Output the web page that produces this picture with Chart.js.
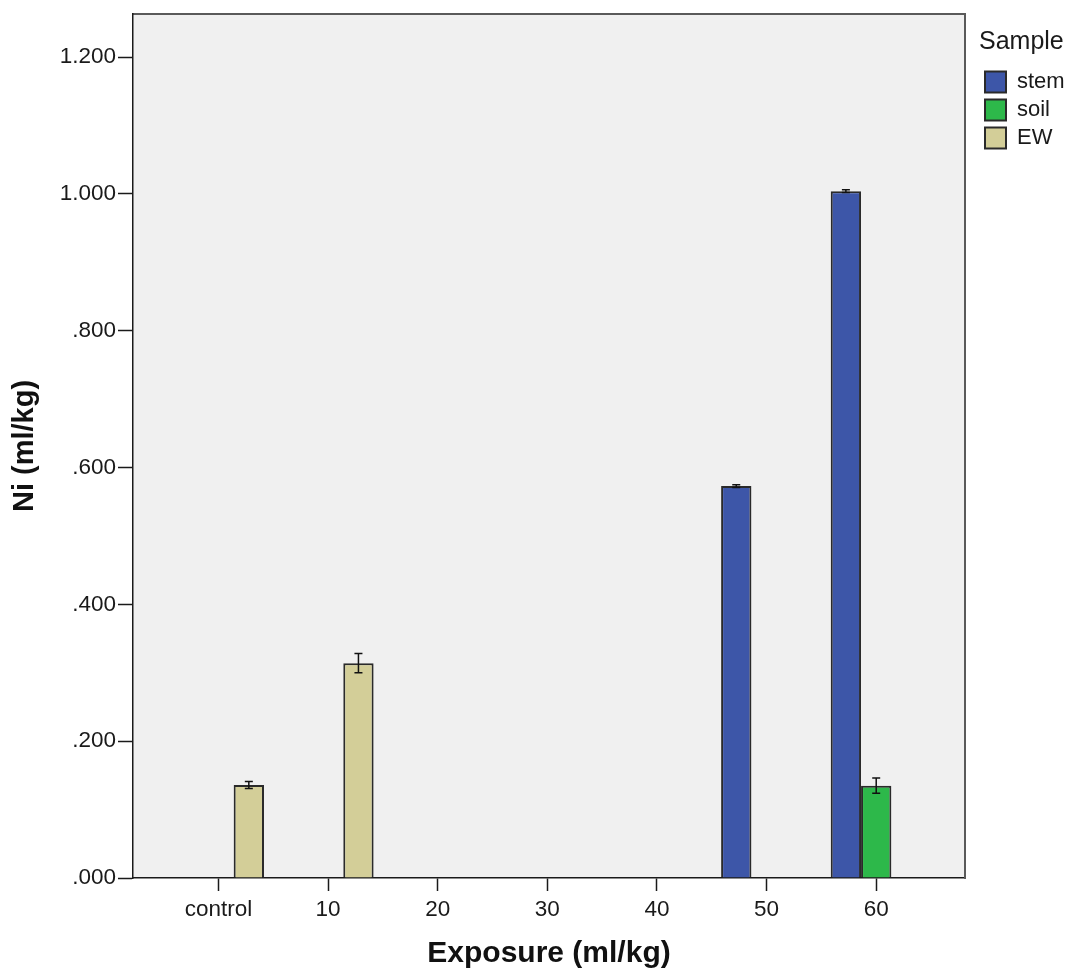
<!DOCTYPE html>
<html>
<head>
<meta charset="utf-8">
<script src="https://cdn.jsdelivr.net/npm/chart.js@4/dist/chart.umd.min.js"></script>
<style>
  html, body { margin: 0; padding: 0; background: #ffffff; }
  #wrap { width: 1071px; height: 972px; }
</style>
</head>
<body>
<div id="wrap"><canvas id="c" width="1071" height="972"></canvas></div>
<script>
// ---- data ----
const categories = ['control', '10', '20', '30', '40', '50', '60'];
const seriesNames = ['stem', 'soil', 'EW'];
const stemValues = [null, null, null, null, null, 0.573, 1.004];
const soilValues = [null, null, null, null, null, null, 0.135];
const ewValues   = [0.136, 0.314, null, null, null, null, null];
const stemErrors = [null, null, null, null, null, 0.002, 0.002];
const soilErrors = [null, null, null, null, null, null, 0.011];
const ewErrors   = [0.005, 0.014, null, null, null, null, null];
const yTickValues = [0, 0.2, 0.4, 0.6, 0.8, 1.0, 1.2];
const yTickLabels = ['.000', '.200', '.400', '.600', '.800', '1.000', '1.200'];

const colors = ['#3D56A8', '#2DB84A', '#D3CE98'];
const FONT = '"Liberation Sans", Arial, sans-serif';

function toPoints(vals) { return vals.map((v, i) => ({ x: i, y: v })); }

const valueSets = [stemValues, soilValues, ewValues];
const errorSets = [stemErrors, soilErrors, ewErrors];

const datasets = seriesNames.map((name, k) => ({
  label: name,
  data: toPoints(valueSets[k]),
  errors: errorSets[k],
  backgroundColor: colors[k],
  borderColor: '#2a2a2a',
  borderWidth: 2,
  categoryPercentage: 0.83,
  barPercentage: 1.0
}));

const plotBg = {
  id: 'plotBg',
  beforeDraw(chart) {
    const { ctx, chartArea: a } = chart;
    ctx.save();
    ctx.fillStyle = '#F0F0F0';
    ctx.fillRect(a.left, a.top, a.right - a.left, a.bottom - a.top);
    ctx.restore();
  }
};

const errorBars = {
  id: 'errorBars',
  afterDatasetsDraw(chart) {
    const { ctx } = chart;
    const yScale = chart.scales.y;
    ctx.save();
    ctx.strokeStyle = '#111111';
    ctx.lineWidth = 1.5;
    chart.data.datasets.forEach((ds, di) => {
      const meta = chart.getDatasetMeta(di);
      meta.data.forEach((bar, j) => {
        const v = ds.data[j].y;
        const e = ds.errors[j];
        if (v == null || e == null) return;
        const x = bar.x;
        const yTop = yScale.getPixelForValue(v + e);
        const yBot = yScale.getPixelForValue(v - e);
        const cap = 4;
        ctx.beginPath();
        ctx.moveTo(x, yTop); ctx.lineTo(x, yBot);
        ctx.moveTo(x - cap, yTop); ctx.lineTo(x + cap, yTop);
        ctx.moveTo(x - cap, yBot); ctx.lineTo(x + cap, yBot);
        ctx.stroke();
      });
    });
    ctx.restore();
  }
};

Chart.defaults.font.family = FONT;
Chart.defaults.color = '#1a1a1a';

new Chart(document.getElementById('c'), {
  type: 'bar',
  data: { datasets },
  plugins: [plotBg, errorBars],
  options: {
    responsive: false,
    animation: false,
    layout: { padding: 0 },
    plugins: {
      tooltip: { enabled: false },
      legend: {
        position: 'right',
        align: 'start',
        maxWidth: 92,
        title: {
          display: true,
          text: 'Sample',
          position: 'start',
          color: '#1a1a1a',
          font: { size: 25, family: FONT },
          padding: { top: 30, bottom: 5 }
        },
        labels: {
          boxWidth: 21,
          boxHeight: 21,
          padding: 6,
          color: '#1a1a1a',
          font: { size: 22, family: FONT }
        }
      }
    },
    scales: {
      x: {
        type: 'linear',
        position: 'bottom',
        offset: false,
        min: -0.78,
        max: 6.81,
        afterBuildTicks(axis) { axis.ticks = categories.map((c, i) => ({ value: i })); },
        afterFit(s) { s.height = 94; s.paddingLeft = 0; s.paddingRight = 0; },
        ticks: {
          callback: (v) => categories[v],
          autoSkip: false,
          maxRotation: 0,
          padding: 5,
          color: '#1a1a1a',
          font: { size: 22.5, family: FONT }
        },
        grid: { offset: false, drawOnChartArea: false, drawTicks: true, tickLength: 13, tickColor: '#1a1a1a', tickWidth: 1.5 },
        border: { display: true, color: '#1a1a1a', width: 1.5 },
        title: {
          display: true,
          text: 'Exposure (ml/kg)',
          color: '#111111',
          font: { size: 30, weight: 'bold', family: FONT },
          padding: { top: 0, bottom: 0 }
        }
      },
      x2: {
        type: 'linear',
        position: 'top',
        display: true,
        afterFit(s) { s.height = 14; },
        ticks: { display: false },
        grid: { display: false, drawTicks: false },
        border: { display: true, color: '#5a5a5a', width: 2 }
      },
      y: {
        type: 'linear',
        position: 'left',
        min: 0,
        max: 1.263,
        afterBuildTicks(axis) { axis.ticks = yTickValues.map(v => ({ value: v })); },
        afterFit(s) { s.width = 133; s.paddingTop = 0; s.paddingBottom = 0; },
        ticks: {
          callback: (v) => yTickLabels[yTickValues.indexOf(v)],
          padding: 2,
          color: '#1a1a1a',
          font: { size: 22.5, family: FONT }
        },
        grid: { drawOnChartArea: false, drawTicks: true, tickLength: 15, tickColor: '#1a1a1a', tickWidth: 1.5 },
        border: { display: true, color: '#1a1a1a', width: 1.5 },
        title: {
          display: true,
          text: 'Ni (ml/kg)',
          color: '#111111',
          font: { size: 29, weight: 'bold', family: FONT },
          padding: { top: 8, bottom: 0 }
        }
      },
      y2: {
        type: 'linear',
        position: 'right',
        display: true,
        afterFit(s) { s.width = 14; },
        ticks: { display: false },
        grid: { display: false, drawTicks: false },
        border: { display: true, color: '#5a5a5a', width: 2 }
      }
    }
  }
});
</script>
</body>
</html>
